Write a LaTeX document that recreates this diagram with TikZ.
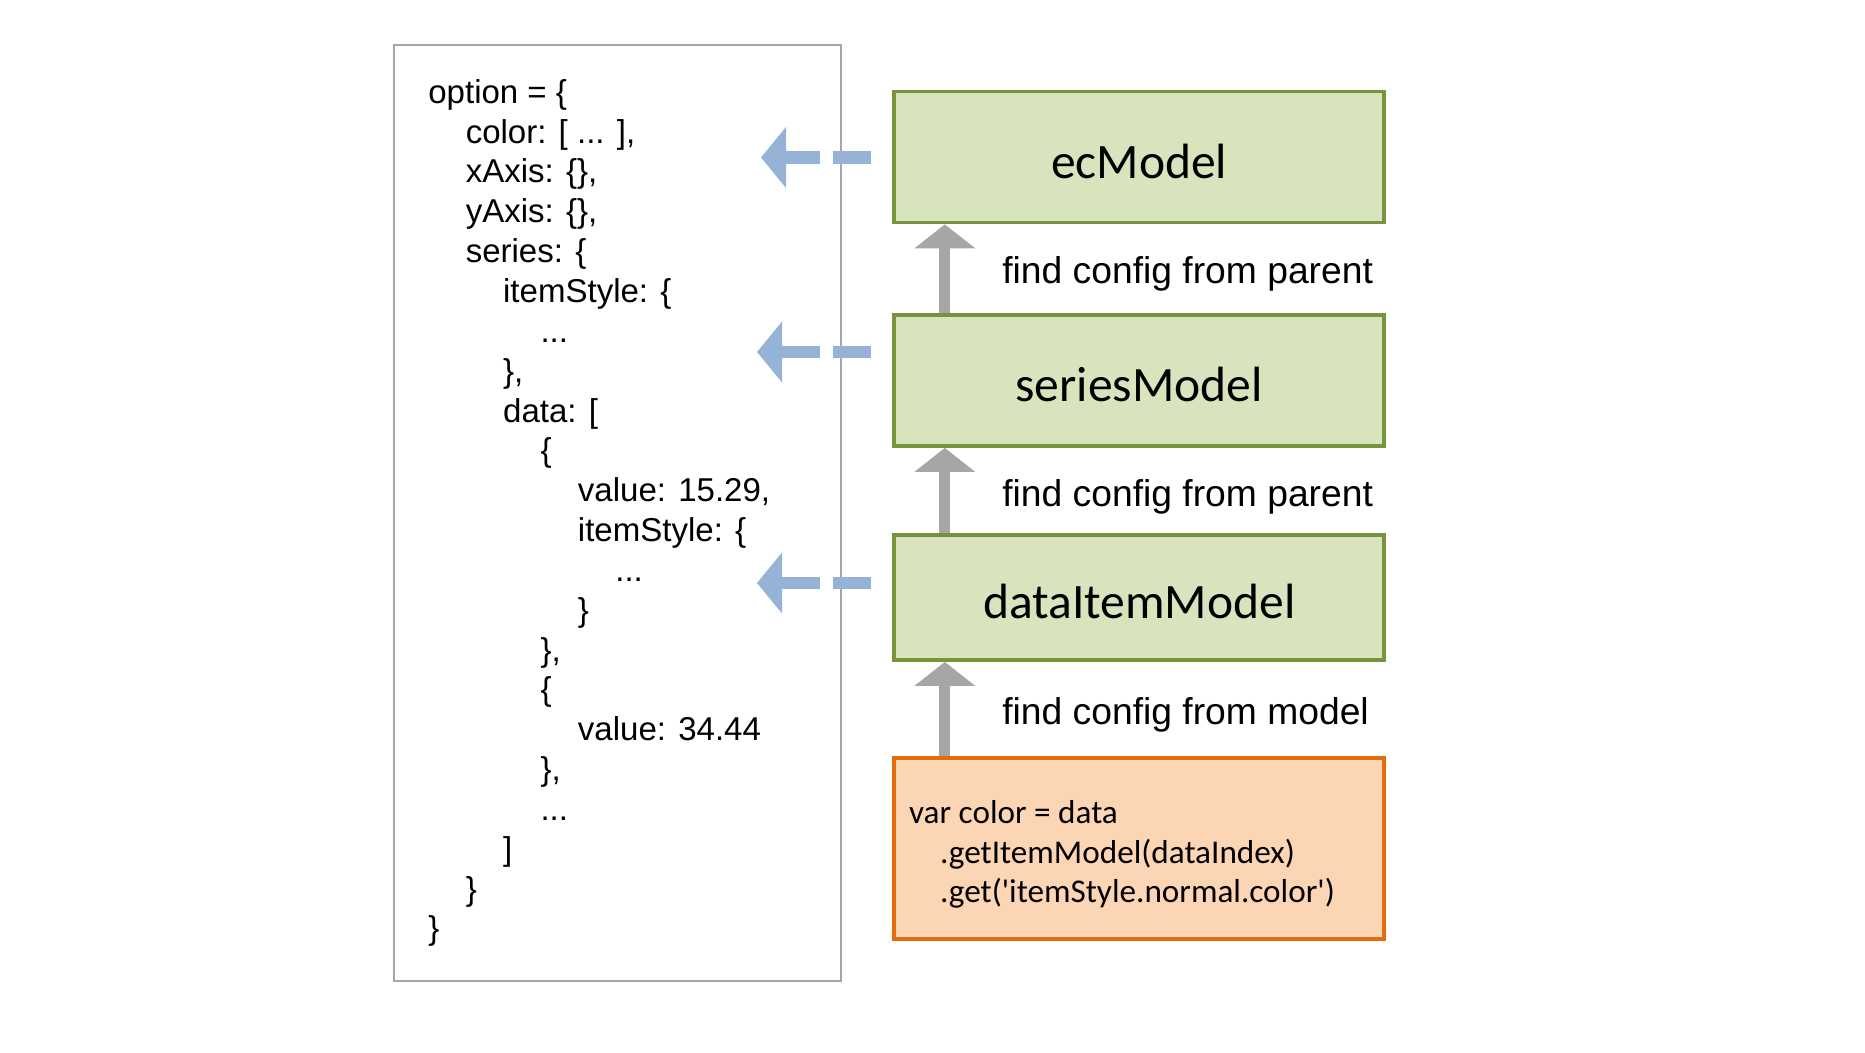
\documentclass[tikz,border=0pt]{standalone}
\usepackage{fontspec}
\setmainfont{Liberation Sans}
\newfontfamily\calibri{Carlito}
\usetikzlibrary{arrows.meta}
\definecolor{modelgreen}{HTML}{D7E4BD}
\definecolor{modelgreenline}{HTML}{77933C}
\definecolor{getorange}{HTML}{FCD5B5}
\definecolor{getorangeline}{HTML}{E46C0A}
\definecolor{cfgblue}{HTML}{95B3D7}
\definecolor{cfggray}{HTML}{A6A6A6}

\tikzset{
  modelbox/.style={draw=modelgreenline, fill=modelgreen, line width=2.2pt,
    minimum width=9.8cm, text height=0.85cm, text depth=0pt,
    font=\calibri\fontsize{28.2}{30}\selectfont},
  getbox/.style={draw=getorangeline, fill=getorange, line width=2.2pt,
    minimum width=9.8cm},
  gettext/.style={anchor=west, inner sep=0pt, align=left,
    font=\calibri\fontsize{18.9}{22.4}\selectfont},
  codebox/.style={draw=cfggray, line width=1.4pt},
  codeline/.style={anchor=base west, inner sep=0pt, font=\fontsize{18.8}{22.6}\selectfont},
  findlabel/.style={anchor=west, inner sep=0pt, font=\fontsize{21.2}{24}\selectfont},
  uparrow/.style={draw=cfggray, line width=0.22cm,
    -{Triangle[length=0.48cm, width=1.22cm, line width=0pt]}},
  cfgarrow/.style={draw=cfgblue, line width=0.246cm, dash pattern=on 0.76cm off 0.26cm,
    -{Triangle[length=0.5cm, width=1.22cm, line width=0pt]}},
}

\begin{document}
\begin{tikzpicture}[x=0.02cm, y=-0.02cm]
\useasboundingbox (0,0) rectangle (1865,1052);

% option object
\draw[codebox] (394,45) rectangle (841,981);
\foreach \lvl/\txt [count=\n] in {0/{option = \{}, 1/{color: [ ... ],}, 1/{xAxis: \{\},},
  1/{yAxis: \{\},}, 1/{series: \{}, 2/{itemStyle: \{}, 3/{...}, 2/{\},}, 2/{data: [},
  3/{\{}, 4/{value: 15.29,}, 4/{itemStyle: \{}, 5/{...}, 4/{\}}, 3/{\},}, 3/{\{},
  4/{value: 34.44}, 3/{\},}, 3/{...}, 2/{]}, 1/{\}}, 0/{\}}}{
  \node[codeline] (line\n) at ({428+37.4*\lvl},{103.3+39.84*(\n-1)}) {\txt};
}

% models
\node[modelbox, minimum height=2.62cm] (ecModel) at (1139.2,157) {ecModel};
\node[modelbox, minimum height=2.62cm] (seriesModel) at (1139.2,380.5) {seriesModel};
\node[modelbox, minimum height=2.5cm] (dataItemModel) at (1139.2,597.5) {dataItemModel};
\node[getbox, minimum height=3.62cm] (getColor) at (1139.2,848.5) {};
\node[gettext] (getText) at ([xshift=0.33cm, yshift=-0.12cm]getColor.west)
  {var color = data\\
  \hspace*{0.62cm}.getItemModel(dataIndex)\\
  \hspace*{0.62cm}.get(\textquotesingle itemStyle.normal.color\textquotesingle)};

\node[findlabel] (find1) at (1002,273.5) {find config from parent};
\node[findlabel] (find2) at (1002,497) {find config from parent};
\node[findlabel] (find3) at (1002,714.5) {find config from model};

\draw[uparrow] ([xshift=1.05cm]seriesModel.north west) -- ([xshift=1.05cm]ecModel.south west);
\draw[uparrow] ([xshift=1.05cm]dataItemModel.north west) -- ([xshift=1.05cm]seriesModel.south west);
\draw[uparrow] ([xshift=1.05cm]getColor.north west) -- ([xshift=1.05cm]dataItemModel.south west);

% back to option
\coordinate (ecFrom) at (871,157.5);
\coordinate (ecTo) at (761,157.5);
\coordinate (seriesFrom) at (871,352);
\coordinate (seriesTo) at (757,352);
\coordinate (dataFrom) at (871,583);
\coordinate (dataTo) at (757,583);
\draw[cfgarrow] (ecFrom) -- (ecTo);
\draw[cfgarrow] (seriesFrom) -- (seriesTo);
\draw[cfgarrow] (dataFrom) -- (dataTo);
\end{tikzpicture}
\end{document}
